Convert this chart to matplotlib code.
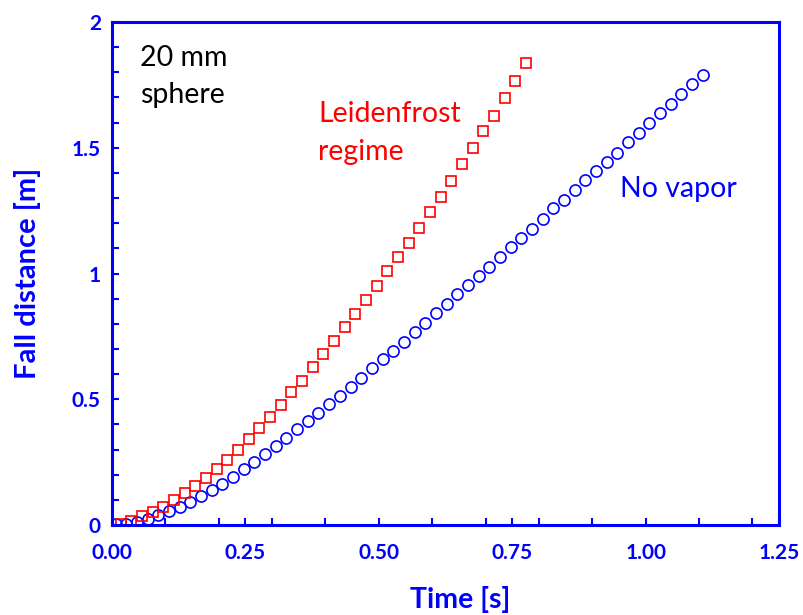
import matplotlib
matplotlib.use('Agg')
import matplotlib.pyplot as plt
from matplotlib.ticker import MultipleLocator

# Leidenfrost regime (red squares)
t_leiden = [0.016, 0.036, 0.056, 0.076, 0.096, 0.116, 0.136, 0.156, 0.176, 0.196,
            0.216, 0.236, 0.256, 0.276, 0.296, 0.316, 0.336, 0.356, 0.376, 0.396,
            0.416, 0.436, 0.456, 0.476, 0.496, 0.516, 0.536, 0.556, 0.576, 0.596,
            0.616, 0.636, 0.656, 0.676, 0.696, 0.716, 0.736, 0.756, 0.776]
z_leiden = [0.005, 0.017, 0.036, 0.053, 0.073, 0.099, 0.126, 0.154, 0.186, 0.224,
            0.258, 0.299, 0.342, 0.387, 0.431, 0.477, 0.528, 0.574, 0.627, 0.680,
            0.731, 0.786, 0.839, 0.895, 0.952, 1.010, 1.064, 1.120, 1.180, 1.243,
            1.306, 1.368, 1.434, 1.498, 1.566, 1.628, 1.697, 1.765, 1.836]

# No vapor (blue circles)
t_novapor = [0.007, 0.027, 0.047, 0.067, 0.087, 0.107, 0.127, 0.147, 0.167, 0.187,
             0.207, 0.227, 0.247, 0.267, 0.287, 0.307, 0.327, 0.347, 0.367, 0.387,
             0.407, 0.427, 0.447, 0.467, 0.487, 0.507, 0.527, 0.547, 0.567, 0.587,
             0.607, 0.627, 0.647, 0.667, 0.687, 0.707, 0.727, 0.747, 0.767, 0.787,
             0.807, 0.827, 0.847, 0.867, 0.887, 0.907, 0.927, 0.947, 0.967, 0.987,
             1.007, 1.027, 1.047, 1.067, 1.087, 1.107]
z_novapor = [0.003, 0.004, 0.013, 0.025, 0.039, 0.056, 0.072, 0.093, 0.115, 0.138,
             0.163, 0.191, 0.221, 0.252, 0.281, 0.313, 0.347, 0.381, 0.414, 0.447,
             0.480, 0.514, 0.548, 0.583, 0.623, 0.659, 0.693, 0.729, 0.769, 0.804,
             0.842, 0.879, 0.917, 0.954, 0.990, 1.027, 1.067, 1.104, 1.140, 1.176,
             1.216, 1.259, 1.292, 1.332, 1.372, 1.407, 1.445, 1.478, 1.523, 1.560,
             1.599, 1.637, 1.674, 1.713, 1.753, 1.789]

x_ticks = [0.0, 0.25, 0.5, 0.75, 1.0, 1.25]
x_labels = ['0.00', '0.25', '0.50', '0.75', '1.00', '1.25']
y_ticks = [0, 0.5, 1, 1.5, 2]
y_labels = ['0', '0.5', '1', '1.5', '2']

BLUE = '#0000ff'
RED = '#ff0000'

plt.rcParams['font.family'] = ['Lato', 'DejaVu Sans']

fig = plt.figure(figsize=(8.04, 6.15), dpi=100)
ax = fig.add_axes([0.1393, 0.1463, 0.8296, 0.8179])

ax.plot(t_novapor, z_novapor, linestyle='none', marker='o', markersize=8,
        markerfacecolor='none', markeredgecolor=BLUE, markeredgewidth=1.2)
ax.plot(t_leiden, z_leiden, linestyle='none', marker='s', markersize=7.6,
        markerfacecolor='none', markeredgecolor=RED, markeredgewidth=1.2)

ax.set_xlim(0, 1.25)
ax.set_ylim(0, 2)

# Excel-style ticks: labelled majors, unlabelled minors, all inward
ax.set_xticks(x_ticks, x_labels, fontweight='bold', fontsize=15, color=BLUE)
ax.set_yticks(y_ticks, y_labels, fontweight='bold', fontsize=15, color=BLUE)
ax.xaxis.set_minor_locator(MultipleLocator(0.1))
ax.yaxis.set_minor_locator(MultipleLocator(0.1))

ax.tick_params(which='both', direction='in', color=BLUE, width=1.5, length=5)
ax.tick_params(axis='x', which='major', pad=13)
ax.tick_params(axis='y', which='major', pad=8)

for sp in ax.spines.values():
    sp.set_color(BLUE)
    sp.set_linewidth(2.2)

ax.set_xlabel('Time [s]', fontsize=20.5, fontweight='bold', color=BLUE)
ax.xaxis.set_label_coords(0.522, -0.122)
ax.set_ylabel('Fall distance [m]', fontsize=21, fontweight='bold', color=BLUE)
ax.yaxis.set_label_coords(-0.107, 0.5)

ax.text(0.042, 0.955, '20 mm\nsphere', transform=ax.transAxes, fontsize=20.5,
        color='black', va='top', ha='left', linespacing=1.55)
ax.text(0.309, 0.842, 'Leidenfrost\nregime', transform=ax.transAxes, fontsize=20.5,
        color=RED, va='top', ha='left', linespacing=1.55)
ax.text(0.762, 0.668, 'No vapor', transform=ax.transAxes, fontsize=20.5,
        color=BLUE, va='center', ha='left')

fig.savefig('out.png', dpi=100, facecolor='white')
plt.close(fig)
